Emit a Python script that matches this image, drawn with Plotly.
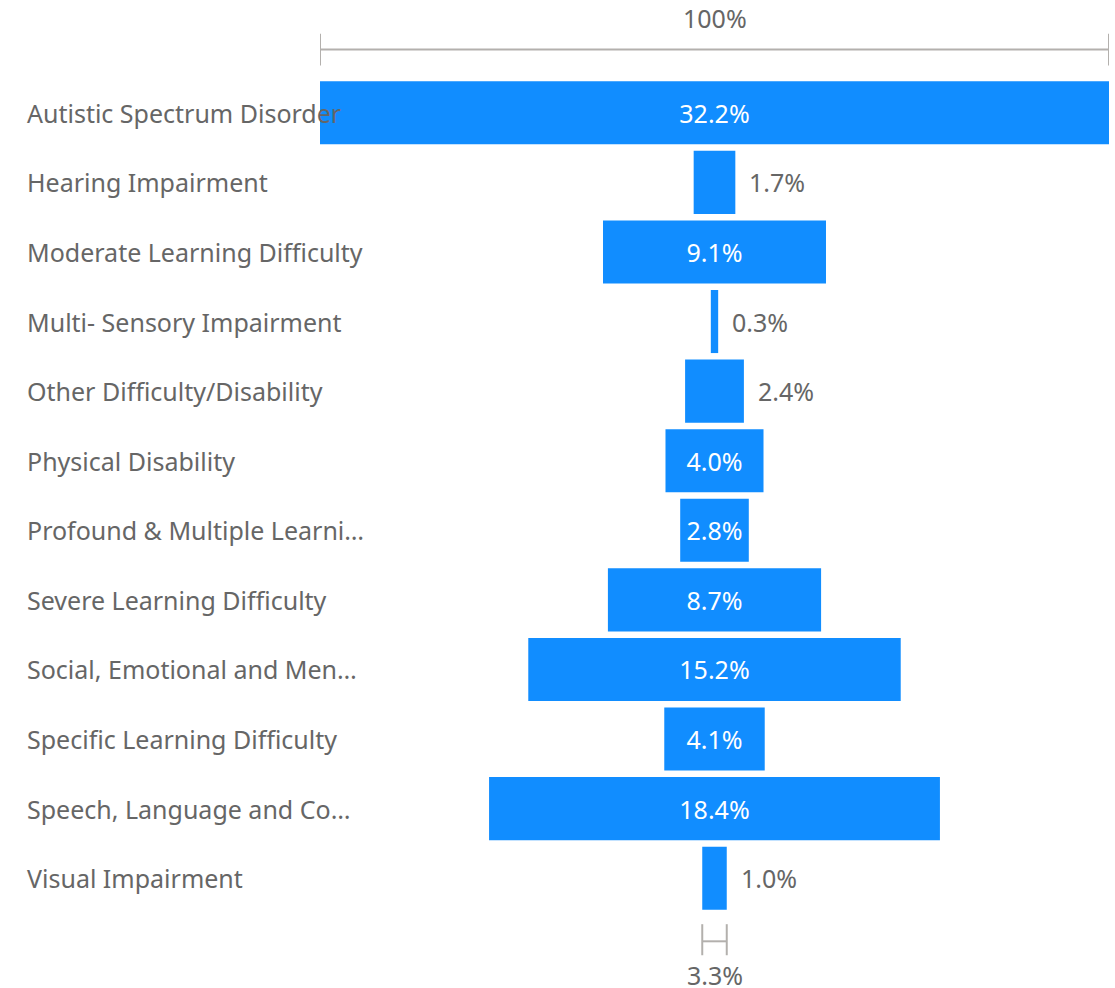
import plotly.graph_objects as go

categories = [
    "Autistic Spectrum Disorder",
    "Hearing Impairment",
    "Moderate Learning Difficulty",
    "Multi- Sensory Impairment",
    "Other Difficulty/Disability",
    "Physical Disability",
    "Profound & Multiple Learni…",
    "Severe Learning Difficulty",
    "Social, Emotional and Men…",
    "Specific Learning Difficulty",
    "Speech, Language and Co…",
    "Visual Impairment",
]
values = [32.2, 1.7, 9.1, 0.3, 2.4, 4.0, 2.8, 8.7, 15.2, 4.1, 18.4, 1.0]
bracket_labels = ["100%", "3.3%"]

BAR = "#118DFF"
TXT = "#666666"
LINE = "#B3B0AD"
FONT = "Noto Sans"
FS = 25

vmax = max(values)
inside = [v >= 2.6 for v in values]

fig = go.Figure()
fig.add_trace(go.Bar(
    y=categories,
    x=values,
    base=[-v / 2 for v in values],
    orientation="h",
    marker=dict(color=BAR, line=dict(width=0)),
    text=[f"{v:.1f}%" if ins else "" for v, ins in zip(values, inside)],
    textposition="inside",
    insidetextanchor="middle",
    textangle=0,
    insidetextfont=dict(color="white", size=FS, family=FONT),
    hoverinfo="skip",
    cliponaxis=False,
))

ann = []
# category labels (left aligned)
for c in categories:
    ann.append(dict(x=-0.3739, xref="paper", y=c, yref="y", text=c,
                    xanchor="left", yanchor="middle", showarrow=False,
                    font=dict(color=TXT, size=FS, family=FONT)))
# outside value labels
for c, v, ins in zip(categories, values, inside):
    if not ins:
        ann.append(dict(x=v / 2, xref="x", y=c, yref="y", text=f"{v:.1f}%",
                        xanchor="left", yanchor="middle", showarrow=False, xshift=12,
                        font=dict(color=TXT, size=FS, family=FONT)))

# brackets
shapes = []
def bracket(half, yline, ytop, ybot):
    shapes.append(dict(type="line", xref="x", yref="paper", x0=-half, x1=half,
                       y0=yline, y1=yline, line=dict(color=LINE, width=2)))
    for xx in (-half, half):
        shapes.append(dict(type="line", xref="x", yref="paper", x0=xx, x1=xx,
                           y0=ytop, y1=ybot, line=dict(color=LINE, width=2)))

bracket(values[0] / 2, 1.034, 1.053, 1.015)
bracket(values[-1] / 2, -0.0339, -0.0134, -0.0506)
ann.append(dict(x=0, xref="x", y=1.0722, yref="paper", text=bracket_labels[0],
                showarrow=False, xanchor="center", yanchor="middle",
                font=dict(color=TXT, size=FS, family=FONT)))
ann.append(dict(x=0, xref="x", y=-0.0746, yref="paper", text=bracket_labels[1],
                showarrow=False, xanchor="center", yanchor="middle",
                font=dict(color=TXT, size=FS, family=FONT)))

fig.update_layout(
    width=1115, height=988,
    margin=dict(l=320, r=6, t=78.25, b=75.25),
    paper_bgcolor="white", plot_bgcolor="white",
    showlegend=False,
    bargap=0.094,
    xaxis=dict(range=[-vmax / 2, vmax / 2], visible=False, fixedrange=True),
    yaxis=dict(categoryorder="array", categoryarray=categories,
               range=[len(categories) - 0.5, -0.5], visible=False, fixedrange=True),
    annotations=ann,
    shapes=shapes,
    font=dict(family=FONT, color=TXT, size=FS),
    uniformtext=dict(minsize=FS, mode="show"),
)

fig.write_html(
    "out.html",
    config={"displayModeBar": False},
    post_script="document.body.style.margin='0';document.body.style.overflow='hidden';",
)
